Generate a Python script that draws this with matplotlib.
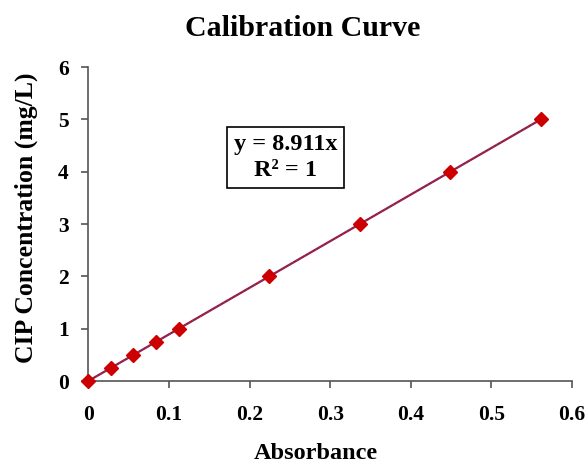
import numpy as np
import matplotlib
matplotlib.use("Agg")
import matplotlib.pyplot as plt

# Calibration data
absorbance = [0.0, 0.0281, 0.0561, 0.0842, 0.1122, 0.2244, 0.3367, 0.4489, 0.5611]
concentration = [0.0, 0.25, 0.5, 0.75, 1.0, 2.0, 3.0, 4.0, 5.0]
slope = 8.911

xticks = [0, 0.1, 0.2, 0.3, 0.4, 0.5, 0.6]
xticklabels = ["0", "0.1", "0.2", "0.3", "0.4", "0.5", "0.6"]
yticks = [0, 1, 2, 3, 4, 5, 6]

plt.rcParams["font.family"] = ["Liberation Serif", "DejaVu Serif"]
plt.rcParams["font.weight"] = "bold"

fig = plt.figure(figsize=(5.88, 4.63), dpi=100)
ax = fig.add_axes([0.150, 0.177, 0.823, 0.678])

# Trendline
x_fit = np.array([absorbance[0], absorbance[-1]])
ax.plot(x_fit, slope * x_fit, color="#b01030", lw=1.6, zorder=2)
ax.plot(x_fit, slope * x_fit, color="#4050a0", lw=0.8, ls=(0, (2, 2)), zorder=3)

# Data points
ax.plot(absorbance, concentration, ls="none", marker="D", ms=7,
        color="#cc0000", markeredgecolor="#cc0000", zorder=4, clip_on=False)

ax.set_xlim(0, 0.6)
ax.set_ylim(0, 6)
ax.set_xticks(xticks)
ax.set_xticklabels(xticklabels)
ax.set_yticks(yticks)

for side in ["top", "right"]:
    ax.spines[side].set_visible(False)
for side in ["left", "bottom"]:
    ax.spines[side].set_color("#555555")
    ax.spines[side].set_linewidth(1.2)

ax.tick_params(direction="out", length=5, width=1.2, color="#555555",
               labelsize=15.5)
ax.tick_params(axis="x", pad=12)
ax.tick_params(axis="y", pad=9)
for lbl in ax.get_xticklabels() + ax.get_yticklabels():
    lbl.set_fontweight("bold")

fig.text(0.514, 0.938, "Calibration Curve", fontsize=21.5, fontweight="bold",
         ha="center", va="center")
fig.text(0.537, 0.02, "Absorbance", fontsize=17.5, fontweight="bold",
         ha="center", va="center")
fig.text(0.045, 0.53, "CIP Concentration (mg/L)", fontsize=18.5,
         fontweight="bold", ha="center", va="center", rotation=90)

ax.text(0.245, 4.27, "y = 8.911x\nR² = 1", fontsize=17.5, fontweight="bold",
        ha="center", va="center", linespacing=1.35,
        bbox=dict(boxstyle="square,pad=0.28", facecolor="white",
                  edgecolor="black", linewidth=1.2))

fig.savefig("out.png", dpi=100)
